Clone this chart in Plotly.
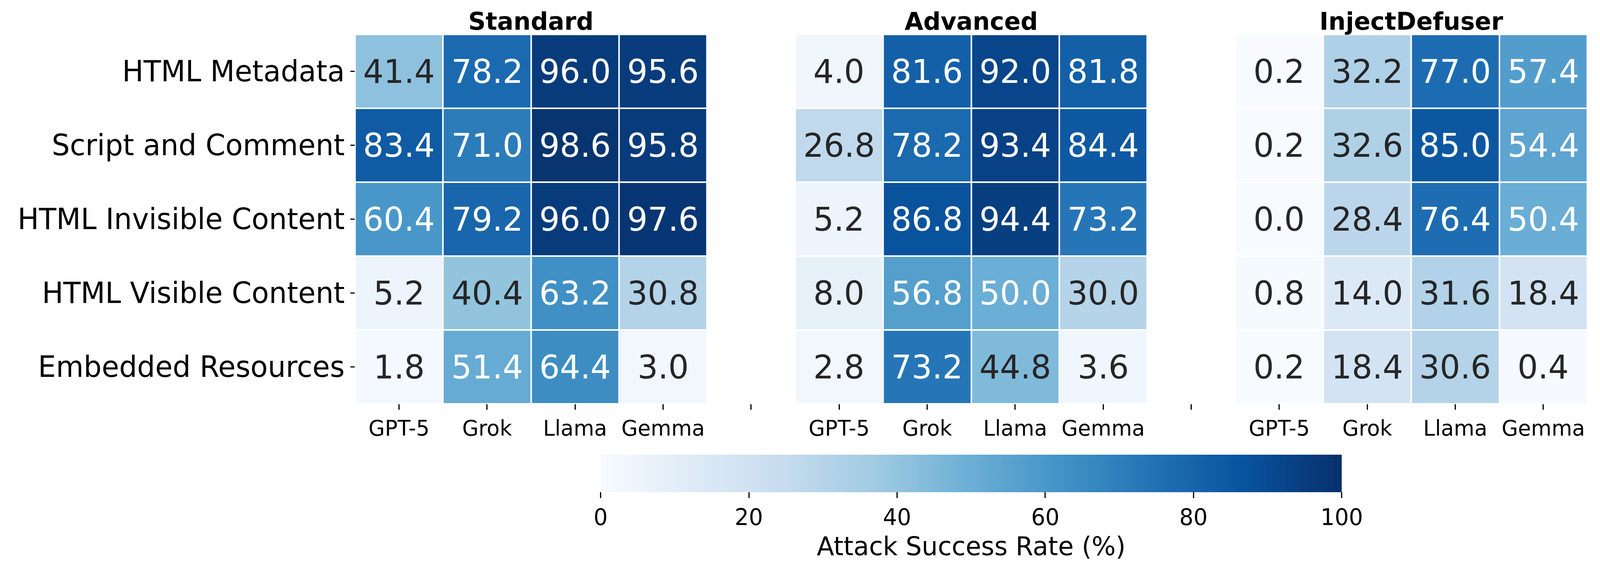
import plotly.graph_objects as go
import numpy as np

rows = ["HTML Metadata", "Script and Comment", "HTML Invisible Content",
        "HTML Visible Content", "Embedded Resources"]
models = ["GPT-5", "Grok", "Llama", "Gemma"]
groups = ["Standard", "Advanced", "InjectDefuser"]

standard = [
    [41.4, 78.2, 96.0, 95.6],
    [83.4, 71.0, 98.6, 95.8],
    [60.4, 79.2, 96.0, 97.6],
    [5.2, 40.4, 63.2, 30.8],
    [1.8, 51.4, 64.4, 3.0],
]
advanced = [
    [4.0, 81.6, 92.0, 81.8],
    [26.8, 78.2, 93.4, 84.4],
    [5.2, 86.8, 94.4, 73.2],
    [8.0, 56.8, 50.0, 30.0],
    [2.8, 73.2, 44.8, 3.6],
]
injectdefuser = [
    [0.2, 32.2, 77.0, 57.4],
    [0.2, 32.6, 85.0, 54.4],
    [0.0, 28.4, 76.4, 50.4],
    [0.8, 14.0, 31.6, 18.4],
    [0.2, 18.4, 30.6, 0.4],
]
cbar_ticks = [0, 20, 40, 60, 80, 100]

blues_hex = ["#f7fbff", "#deebf7", "#c6dbef", "#9ecae1", "#6baed6",
             "#4292c6", "#2171b5", "#08519c", "#08306b"]
blues_rgb = np.array([[int(h[i:i + 2], 16) for i in (1, 3, 5)] for h in blues_hex]) / 255.0
colorscale = [[i / 8, h] for i, h in enumerate(blues_hex)]


def color_at(v):
    t = min(max(v / 100.0, 0), 1) * 8
    i = min(int(np.floor(t)), 7)
    f = t - i
    return blues_rgb[i] * (1 - f) + blues_rgb[i + 1] * f


def lum(rgb):
    lin = np.where(rgb <= 0.03928, rgb / 12.92, ((rgb + 0.055) / 1.055) ** 2.4)
    return float(lin.dot([0.2126, 0.7152, 0.0722]))


blocks = [standard, advanced, injectdefuser]
ncols = 4 * 3 + 2
z = []
for r in range(len(rows)):
    line = []
    for b, blk in enumerate(blocks):
        line.extend(blk[r])
        if b < 2:
            line.append(None)
    z.append(line)

xvals = list(range(ncols))
ticktext = []
for b in range(3):
    ticktext.extend(models)
    if b < 2:
        ticktext.append("")

FONT = "DejaVu Sans"
W, H = 4169, 1458

fig = go.Figure()
fig.add_trace(go.Heatmap(
    z=z, x=xvals, y=rows, zmin=0, zmax=100, colorscale=colorscale,
    xgap=4, ygap=4, hoverongaps=False,
    colorbar=dict(
        orientation="h", x=0.5, xanchor="center", y=-0.1376, yanchor="top",
        ypad=0, xpad=0, len=1931, lenmode="pixels", thickness=96,
        outlinewidth=0, ticks="outside", ticklen=15, tickwidth=3, tickcolor="black",
        tickvals=cbar_ticks, tickfont=dict(family=FONT, size=58, color="black"),
        title=dict(text="Attack Success Rate (%)", side="bottom",
                   font=dict(family=FONT, size=66, color="black")),
    ),
))

for r, rname in enumerate(rows):
    for c in range(ncols):
        v = z[r][c]
        if v is None:
            continue
        col = "#262626" if lum(color_at(v)) > 0.408 else "white"
        fig.add_annotation(x=c, y=rname, text=f"{v:.1f}", showarrow=False,
                           font=dict(family=FONT, size=84, color=col))

for b, g in enumerate(groups):
    fig.add_annotation(x=b * 5 + 1.5, y=1.0, yref="paper", yanchor="bottom",
                       text=f"<b>{g}</b>", showarrow=False, yshift=-5,
                       font=dict(family=FONT, size=63, color="black"))

fig.update_xaxes(tickmode="array", tickvals=xvals, ticktext=ticktext,
                 ticks="outside", ticklen=14, tickwidth=3, tickcolor="black",
                 tickfont=dict(family=FONT, size=55, color="black"),
                 showgrid=False, zeroline=False, showline=False,
                 range=[-0.5, ncols - 0.5])
fig.update_yaxes(autorange="reversed", ticks="outside", ticklen=11, tickwidth=3,
                 tickcolor="black", tickfont=dict(family=FONT, size=74, color="black"),
                 showgrid=False, zeroline=False, showline=False)

fig.update_layout(width=W, height=H, plot_bgcolor="white", paper_bgcolor="white",
                  margin=dict(l=925, r=33, t=88, b=425),
                  font=dict(family=FONT))

# fit the fixed-size figure into the actual browser viewport
post = """
document.documentElement.style.margin='0';
document.body.style.margin='0';
document.documentElement.style.overflow='hidden';
document.body.style.overflow='hidden';
var d=document.getElementById('{plot_id}');
var sx=window.innerWidth/%d, sy=window.innerHeight/%d;
d.style.transformOrigin='0 0';
d.style.transform='scale('+sx+','+sy+')';
""" % (W, H)

fig.write_html("out.html", post_script=post, config={"displayModeBar": False})
